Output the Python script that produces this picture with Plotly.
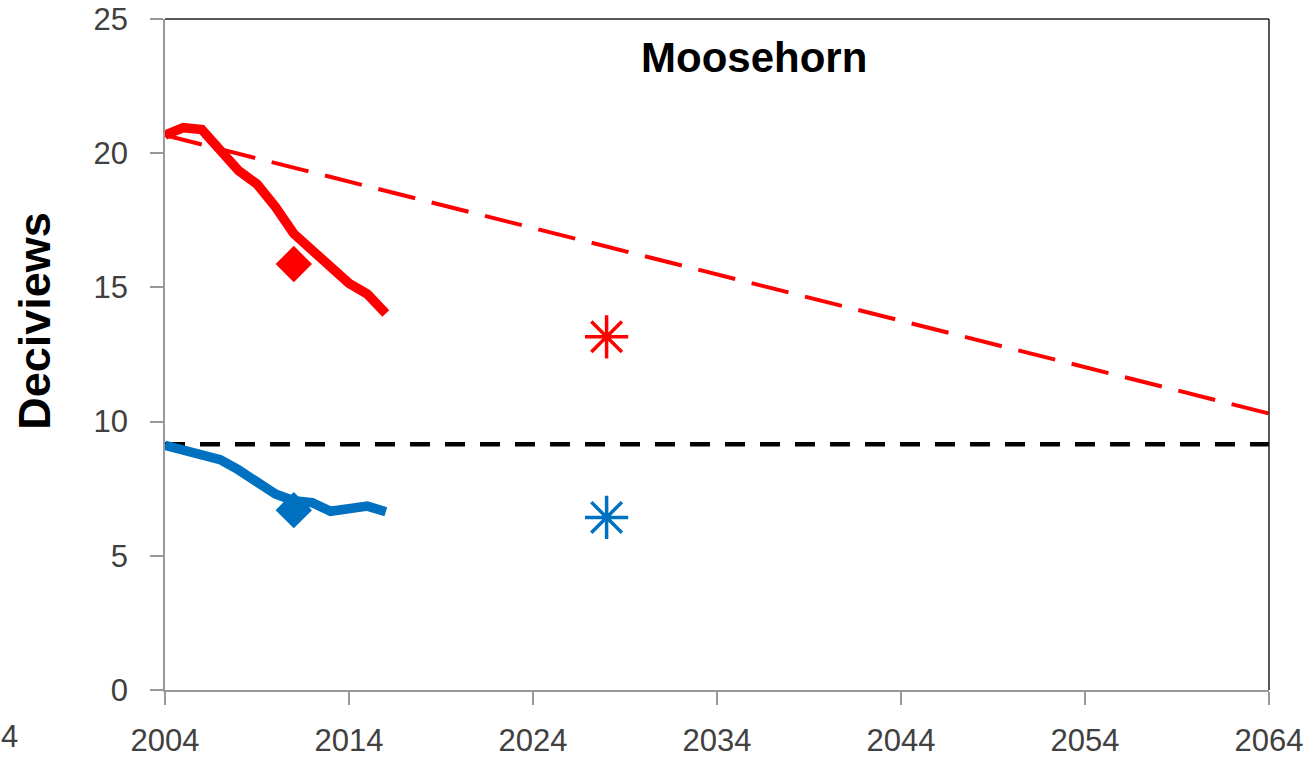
import plotly.graph_objects as go

# observed haze (20% most impaired / 20% clearest days), rolling averages
years = list(range(2004, 2017))
impaired_dv = [20.67, 20.95, 20.88, 20.15, 19.35, 18.85, 18.0, 17.0, 16.35, 15.7, 15.15, 14.75, 14.03]
clearest_dv = [9.12, 8.95, 8.78, 8.58, 8.2, 7.75, 7.3, 7.05, 6.98, 6.66, 6.75, 6.85, 6.64]

# uniform rate of progress (glide path) and no-degradation line
glide_years = [2004, 2064]
glide_dv = [20.67, 10.3]
clear_base_years = [2004, 2064]
clear_base_dv = [9.16, 9.16]

# 2011 diamonds and 2028 projections
diamond_year = [2011]
impaired_2011 = [15.87]
clearest_2011 = [6.7]
proj_year = [2028]
impaired_2028 = [13.16]
clearest_2028 = [6.43]

red = "#FF0000"
blue = "#0070C0"

fig = go.Figure()

fig.add_trace(go.Scatter(x=clear_base_years, y=clear_base_dv, mode="lines",
                         line=dict(color="black", width=4.5, dash="20px,15px")))
fig.add_trace(go.Scatter(x=glide_years, y=glide_dv, mode="lines",
                         line=dict(color=red, width=4, dash="38px,17px")))
fig.add_trace(go.Scatter(x=years, y=impaired_dv, mode="lines",
                         line=dict(color=red, width=9.5)))
fig.add_trace(go.Scatter(x=years, y=clearest_dv, mode="lines",
                         line=dict(color=blue, width=9.5)))
fig.add_trace(go.Scatter(x=diamond_year, y=impaired_2011, mode="markers",
                         marker=dict(symbol="diamond", size=28, color=red)))
fig.add_trace(go.Scatter(x=diamond_year, y=clearest_2011, mode="markers",
                         marker=dict(symbol="diamond", size=28, color=blue)))
fig.add_trace(go.Scatter(x=proj_year, y=impaired_2028, mode="markers",
                         marker=dict(symbol="asterisk", size=36, color=red,
                                     line=dict(color=red, width=3.5))))
fig.add_trace(go.Scatter(x=proj_year, y=clearest_2028, mode="markers",
                         marker=dict(symbol="asterisk", size=36, color=blue,
                                     line=dict(color=blue, width=3.5))))

tick_font = dict(family="Liberation Sans", size=31, color="#404040")

fig.update_layout(
    width=1312, height=757,
    showlegend=False,
    plot_bgcolor="white",
    paper_bgcolor="white",
    margin=dict(l=165, r=43, t=19, b=67, autoexpand=False),
    annotations=[
        dict(text="<b>Moosehorn</b>", xref="paper", yref="paper", x=0.5335, y=0.943,
             xanchor="center", yanchor="middle",
             showarrow=False, font=dict(family="Liberation Sans", size=42, color="black")),
        dict(text="<b>Deciviews</b>", xref="paper", yref="paper", x=-0.1179, y=0.55,
             xanchor="center", yanchor="middle",
             textangle=-90, showarrow=False,
             font=dict(family="Liberation Sans", size=45, color="black")),
        # last digit of a neighbouring chart's label, cut at the left edge
        dict(text="4", xref="paper", yref="paper", x=0, y=0, xanchor="left", yanchor="middle",
             xshift=-166, yshift=-46, showarrow=False, font=tick_font),
    ],
    shapes=[
        # dark top and right frame of the plot area
        dict(type="line", xref="paper", yref="paper", x0=0, x1=1, y0=1, y1=1,
             line=dict(color="#202020", width=1.5)),
        dict(type="line", xref="paper", yref="paper", x0=1, x1=1, y0=0, y1=1,
             line=dict(color="#202020", width=1.5)),
    ],
)

fig.update_xaxes(range=[2004, 2064], tick0=2004, dtick=10, showgrid=False, zeroline=False,
                 showline=True, linecolor="#999999", linewidth=1.5,
                 ticks="outside", ticklen=13, tickcolor="#999999", tickwidth=1.5,
                 ticklabelstandoff=9, ticklabeloverflow="allow", tickfont=tick_font)
fig.update_yaxes(range=[0, 25], dtick=5, showgrid=False, zeroline=False,
                 showline=True, linecolor="#999999", linewidth=1.5,
                 ticks="outside", ticklen=13, tickcolor="#999999", tickwidth=1.5,
                 ticklabelstandoff=16, ticklabeloverflow="allow", tickfont=tick_font)

# drop the default page margin so the figure sits at the window's corner
fig.write_html("out.html", config={"displayModeBar": False},
               post_script="document.body.style.margin = '0';")
